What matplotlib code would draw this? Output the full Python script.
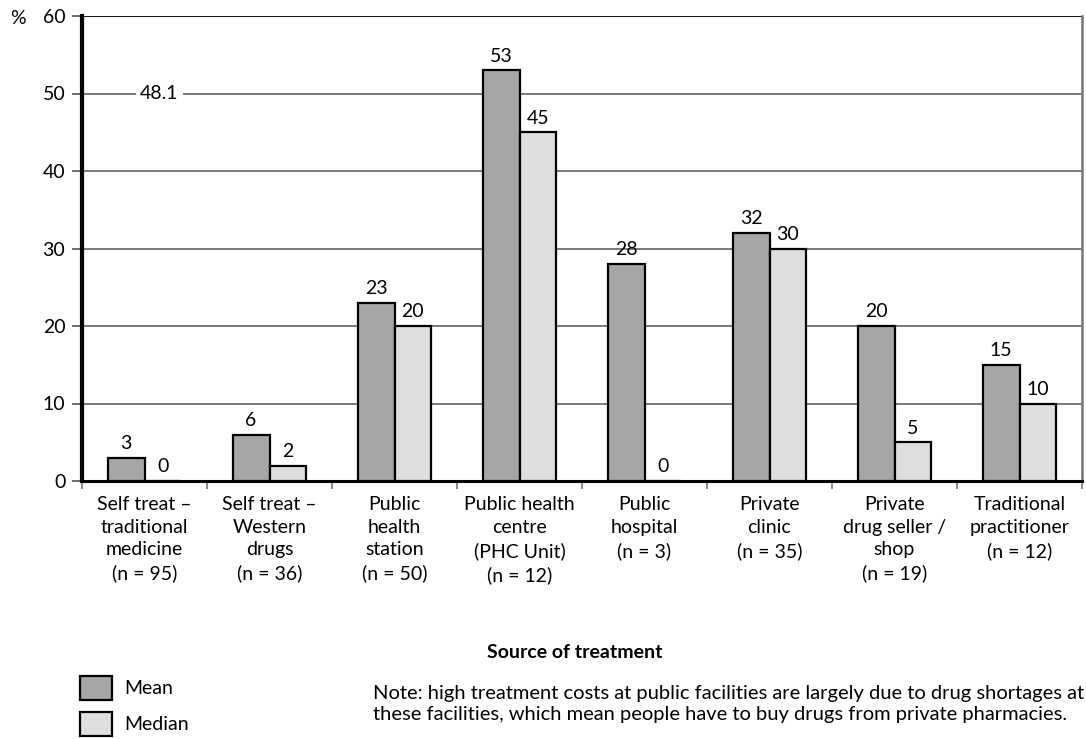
import matplotlib
matplotlib.use("Agg")
import matplotlib.pyplot as plt
from matplotlib.patches import Rectangle
import numpy as np

plt.rcParams['font.family'] = ['Lato', 'DejaVu Sans']

categories = [
    "Self treat –\ntraditional\nmedicine\n(n = 95)",
    "Self treat –\nWestern\ndrugs\n(n = 36)",
    "Public\nhealth\nstation\n(n = 50)",
    "Public health\ncentre\n(PHC Unit)\n(n = 12)",
    "Public\nhospital\n(n = 3)",
    "Private\nclinic\n(n = 35)",
    "Private\ndrug seller /\nshop\n(n = 19)",
    "Traditional\npractitioner\n(n = 12)",
]
mean_vals = [3, 6, 23, 53, 28, 32, 20, 15]
median_vals = [0, 2, 20, 45, 0, 30, 5, 10]
y_ticks = [0, 10, 20, 30, 40, 50, 60]
reference_label = "48.1"

mean_color = "#a6a6a6"
median_color = "#dedede"
FS = 14

fig = plt.figure(figsize=(10.86, 7.39), dpi=100)
ax = fig.add_axes([82 / 1086, 1 - 481 / 739, 1000 / 1086, (481 - 16) / 739])

x = np.arange(len(categories))
w = 0.295
ax.bar(x - w / 2, mean_vals, w, color=mean_color, edgecolor="black", linewidth=1.6, zorder=3)
ax.bar(x + w / 2, median_vals, w, color=median_color, edgecolor="black", linewidth=1.6, zorder=3)

for xi, m, md in zip(x, mean_vals, median_vals):
    ax.annotate(str(m), (xi - w / 2, m), xytext=(0, 4), textcoords="offset points",
                ha="center", va="bottom", fontsize=FS)
    ax.annotate(str(md), (xi + w / 2, md), xytext=(0, 4), textcoords="offset points",
                ha="center", va="bottom", fontsize=FS)

ax.set_xlim(-0.5, len(categories) - 0.5)
ax.set_ylim(0, 60)

# horizontal gridlines
for t in y_ticks[1:-1]:
    ax.axhline(t, color="#555555", linewidth=1.1, zorder=1)
ax.axhline(60, color="black", linewidth=1.3, zorder=1)

ax.text(0.12, 50, reference_label, ha="center", va="center", fontsize=FS,
        bbox=dict(facecolor="white", edgecolor="none", pad=3), zorder=2)

ax.set_yticks(y_ticks)
ax.set_yticklabels([str(t) for t in y_ticks], fontsize=FS)
ax.tick_params(axis="y", length=7, width=1.2, color="#555555", pad=5)

# category boundary ticks on x
ax.set_xticks(np.arange(len(categories) + 1) - 0.5)
ax.set_xticklabels([])
ax.tick_params(axis="x", length=6, width=1.2, color="#777777")
for xi, lab in zip(x, categories):
    ax.text(xi, -1.9, lab, ha="center", va="top", fontsize=FS, linespacing=1.42)

ax.spines["left"].set_linewidth(3)
ax.spines["left"].set_color("black")
ax.spines["bottom"].set_linewidth(2.2)
ax.spines["bottom"].set_color("black")
ax.spines["right"].set_linewidth(1.8)
ax.spines["right"].set_color("#777777")
ax.spines["top"].set_visible(False)

fig.text(18 / 1086, 1 - 19 / 739, "%", ha="center", va="center", fontsize=FS)
fig.text(575 / 1086, 1 - 653 / 739, "Source of treatment", ha="center", va="center",
         fontsize=14, fontweight="bold")

# legend
for yy, col, lab in [(676, mean_color, "Mean"), (712, median_color, "Median")]:
    fig.patches.append(Rectangle((80 / 1086, 1 - (yy + 24) / 739), 32 / 1086, 24 / 739,
                                 transform=fig.transFigure, facecolor=col,
                                 edgecolor="black", linewidth=1.6))
    fig.text(124 / 1086, 1 - (yy + 12) / 739, lab, ha="left", va="center", fontsize=FS)

fig.text(373 / 1086, 1 - 704 / 739,
         "Note: high treatment costs at public facilities are largely due to drug shortages at\n"
         "these facilities, which mean people have to buy drugs from private pharmacies.",
         ha="left", va="center", fontsize=14.5, linespacing=1.22)

fig.savefig("out.png", dpi=100)
